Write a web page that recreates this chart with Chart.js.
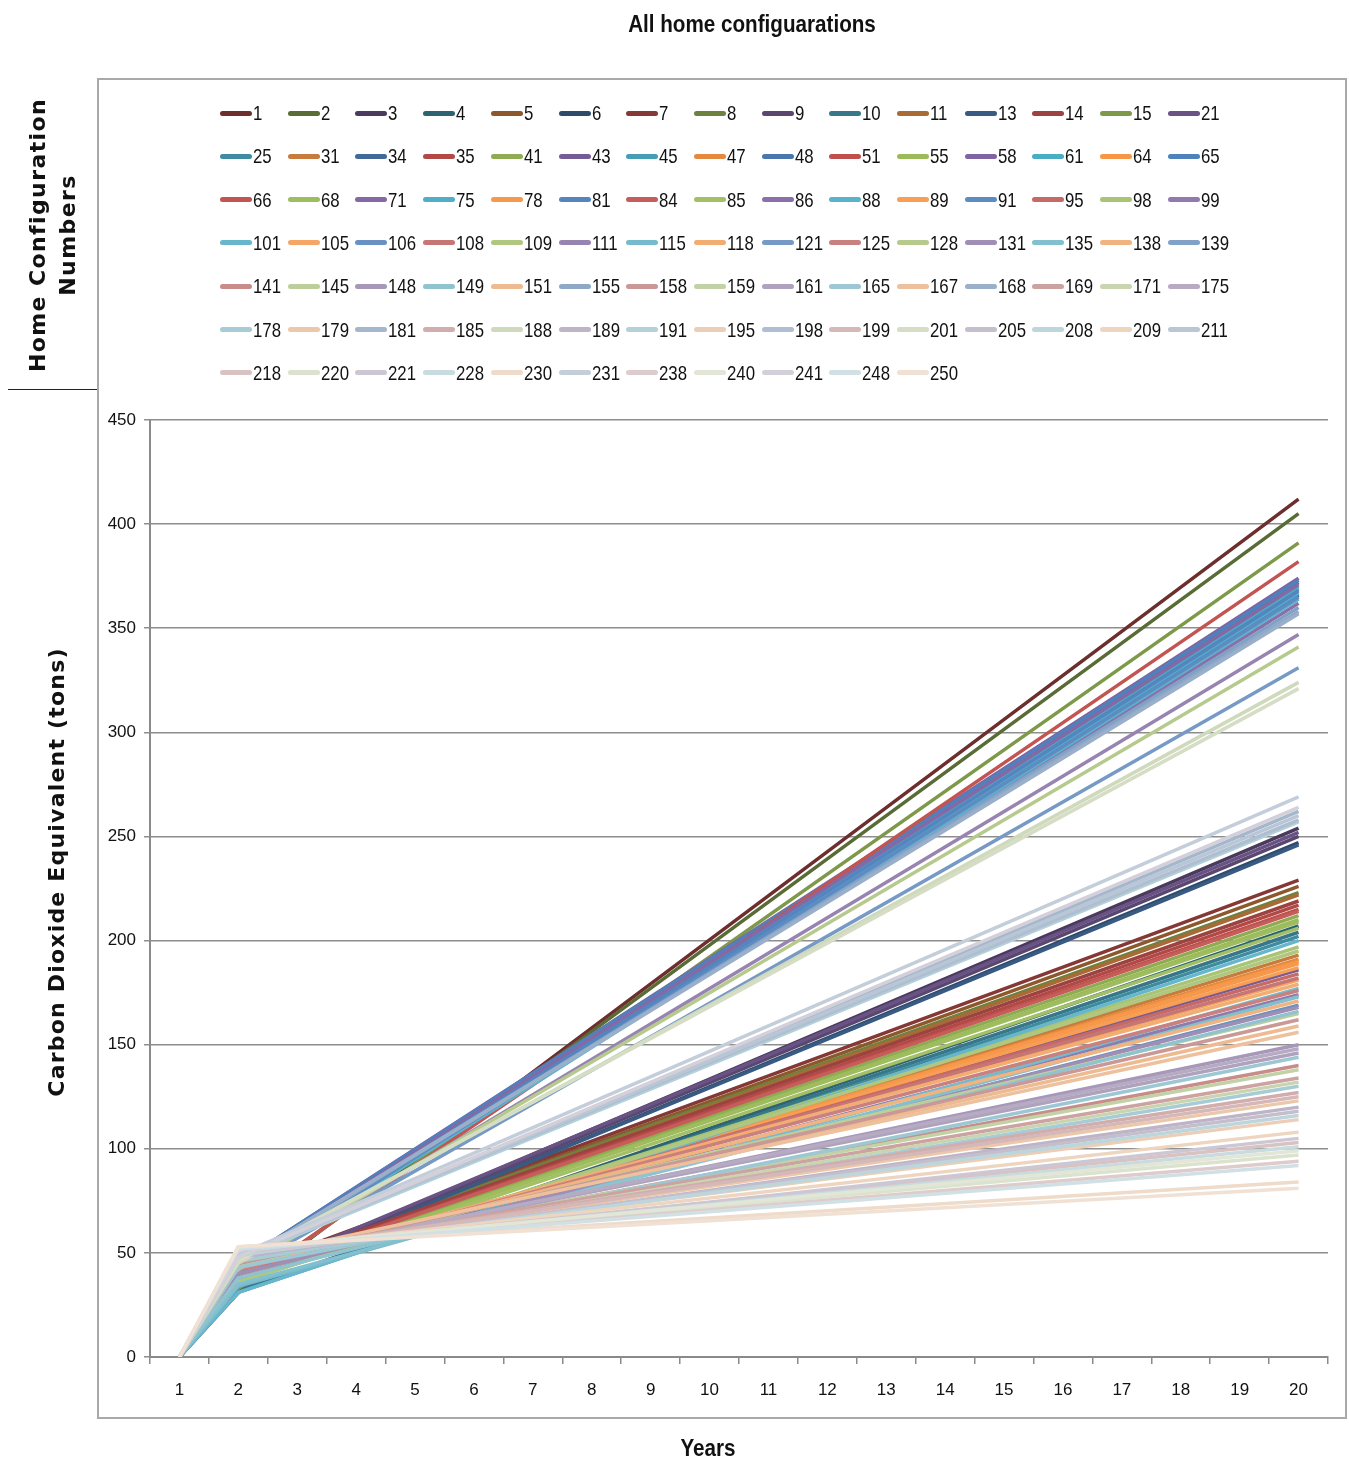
<!DOCTYPE html>
<html><head><meta charset="utf-8">
<script src="https://cdn.jsdelivr.net/npm/chart.js@4"></script>
<style>
html,body{margin:0;padding:0;background:#fff;}
body{width:1349px;height:1466px;position:relative;overflow:hidden;}
#box{position:absolute;left:97px;top:78px;width:1250px;height:1341px;border:2px solid #a9a9a9;box-sizing:border-box;}
#c{position:absolute;left:0;top:0;}
.narrow{font-family:"Liberation Sans",Arimo,sans-serif;}
#title{position:absolute;left:502px;top:10px;width:500px;text-align:center;font-weight:bold;font-size:24px;color:#111;transform:scaleX(0.86);}
#xtitle{position:absolute;left:558px;top:1434px;width:300px;text-align:center;font-weight:bold;font-size:24px;color:#111;transform:scaleX(0.86);}
#ytitle{position:absolute;left:-243px;top:857px;width:600px;height:30px;line-height:30px;text-align:center;transform:rotate(-90deg);font-family:"DejaVu Sans",sans-serif;font-weight:bold;font-size:22px;letter-spacing:1.2px;color:#111;}
#ltitle{position:absolute;left:-97px;top:205px;width:300px;height:60px;line-height:30px;text-align:center;transform:rotate(-90deg);font-family:"DejaVu Sans",sans-serif;font-weight:bold;font-size:22px;letter-spacing:1.4px;color:#111;}
#lline{position:absolute;left:8px;top:389px;width:89px;height:1px;background:#222;}
#legend{position:absolute;left:0;top:0;}
.li{position:absolute;height:24px;display:flex;align-items:center;font-size:21px;color:#111;white-space:nowrap;}
.li .sw{display:inline-block;width:32px;height:5px;border-radius:3px;margin-right:1px;}
.li .tx{display:inline-block;transform:scaleX(0.8);transform-origin:left center;}
</style></head>
<body>
<div id="box"></div>
<canvas id="c" width="1349" height="1466"></canvas>
<div id="title" class="narrow">All home configuarations</div>
<div id="xtitle" class="narrow">Years</div>
<div id="ytitle">Carbon Dioxide Equivalent (tons)</div>
<div id="ltitle">Home Configuration<br>Numbers</div>
<div id="lline"></div>
<div id="legend" class="narrow"></div>
<script>
// ---- data ----
const years = [1,2,3,4,5,6,7,8,9,10,11,12,13,14,15,16,17,18,19,20];
const configs = [1,2,3,4,5,6,7,8,9,10,11,13,14,15,21,
 25,31,34,35,41,43,45,47,48,51,55,58,61,64,65,
 66,68,71,75,78,81,84,85,86,88,89,91,95,98,99,
 101,105,106,108,109,111,115,118,121,125,128,131,135,138,139,
 141,145,148,149,151,155,158,159,161,165,167,168,169,171,175,
 178,179,181,185,188,189,191,195,198,199,201,205,208,209,211,
 218,220,221,228,230,231,238,240,241,248,250];
// value in year 1 for every configuration
const year1Values = 0;
// value read at year 2
const year2Values = [31,32,37,32,40,36,41,40,37,32,39,36,40,33,38,
 31,37,43,39,38,38,42,37,44,39,37,45,42,38,45,
 34,37,44,42,38,43,39,36,43,41,39,42,40,36,40,
 31,41,38,41,36,41,34,42,41,42,42,40,35,43,44,
 46,44,45,38,46,45,45,47,46,43,47,45,48,47,46,
 46,49,48,49,45,48,47,50,48,49,46,49,49,51,48,
 51,52,50,51,53,49,52,52,48,52,53];
// value read at year 20
const year20Values = [412,405,254,207,226,247,229,223,250,204,222,246,219,391,252,
 202,193,366,217,212,186,369,191,372,215,210,374,370,190,373,
 382,209,371,367,189,368,214,206,362,364,187,365,184,197,174,
 200,181,169,182,195,347,177,179,331,176,341,168,173,171,360,
 140,165,150,166,159,358,162,138,146,144,156,357,134,132,148,
 130,123,262,127,324,120,257,114,258,125,321,118,116,108,260,
 103,97,105,101,84,269,94,99,264,92,81];

// ---- styles ----
const baseHues = [[192,80,77],[155,187,89],[128,100,162],[75,172,198],[247,150,70],[79,129,189]];
const shadeSteps = [-0.42,-0.3,-0.18,-0.08,0,0.03,0.08,0.14,0.2,0.26,0.32,0.38,0.44,0.5,0.56,0.62,0.68];
const desatSteps = [0.05,0.05,0.03,0,0,0,0,0.05,0.1,0.15,0.22,0.28,0.33,0.38,0.42,0.46,0.5];
function seriesColor(i){
  const h = baseHues[i%6]; const g = Math.min(Math.floor(i/6), shadeSteps.length-1);
  let [r,gg,b] = h; const s = shadeSteps[g], d = desatSteps[g];
  const grey = 0.3*r+0.59*gg+0.11*b;
  r = r+(grey-r)*d; gg = gg+(grey-gg)*d; b = b+(grey-b)*d;
  if (s<0){ r*=1+s; gg*=1+s; b*=1+s; } else { r+=(255-r)*s; gg+=(255-gg)*s; b+=(255-b)*s; }
  return `rgb(${Math.round(r)},${Math.round(gg)},${Math.round(b)})`;
}

const datasets = configs.map((cfg,i)=>{
  const data = years.map(()=>null);
  data[0] = year1Values; data[1] = year2Values[i]; data[years.length-1] = year20Values[i];
  return {label:String(cfg), data, borderColor:seriesColor(i), backgroundColor:seriesColor(i),
    borderWidth:3.5, pointRadius:0, pointHoverRadius:0, spanGaps:true, tension:0,
    borderJoinStyle:'round', order:configs.length-i};
});

const tickFont = {family:'"Liberation Sans",Arimo,sans-serif', size:17};
const chart = new Chart(document.getElementById('c'), {
  type:'line',
  data:{labels:years.map(String), datasets},
  options:{
    responsive:false, animation:false, events:[],
    layout:{padding:{left:0,right:21,top:420,bottom:0}},
    plugins:{legend:{display:false}, tooltip:{enabled:false}, title:{display:false}},
    scales:{
      x:{type:'category', offset:true,
        grid:{offset:true, drawOnChartArea:false, drawTicks:true, tickLength:7, color:'#8a8a8a', lineWidth:1.5},
        border:{color:'#8a8a8a', width:2},
        ticks:{color:'#111', font:tickFont, padding:16, maxRotation:0, autoSkip:false},
        afterFit(s){ s.height = 109; }},
      y:{min:0, max:450,
        grid:{color:'#8e8e8e', lineWidth:1.5, tickLength:6, drawTicks:true},
        border:{color:'#8a8a8a', width:2},
        ticks:{stepSize:50, color:'#111', font:tickFont, padding:8},
        afterFit(s){ s.width = 150; }}
    }
  }
});

// HTML legend generated from the chart datasets, Excel-like grid
const leg = document.getElementById('legend');
chart.data.datasets.forEach((ds,i)=>{
  const row = Math.floor(i/15), col = i%15;
  const el = document.createElement('div');
  el.className='li';
  el.style.left = (220 + col*67.7) + 'px';
  el.style.top = (101 + row*43.3) + 'px';
  const sw = document.createElement('span'); sw.className='sw'; sw.style.background = ds.borderColor;
  const tx = document.createElement('span'); tx.className='tx'; tx.textContent = ds.label;
  el.appendChild(sw); el.appendChild(tx);
  leg.appendChild(el);
});
</script>
</body></html>
